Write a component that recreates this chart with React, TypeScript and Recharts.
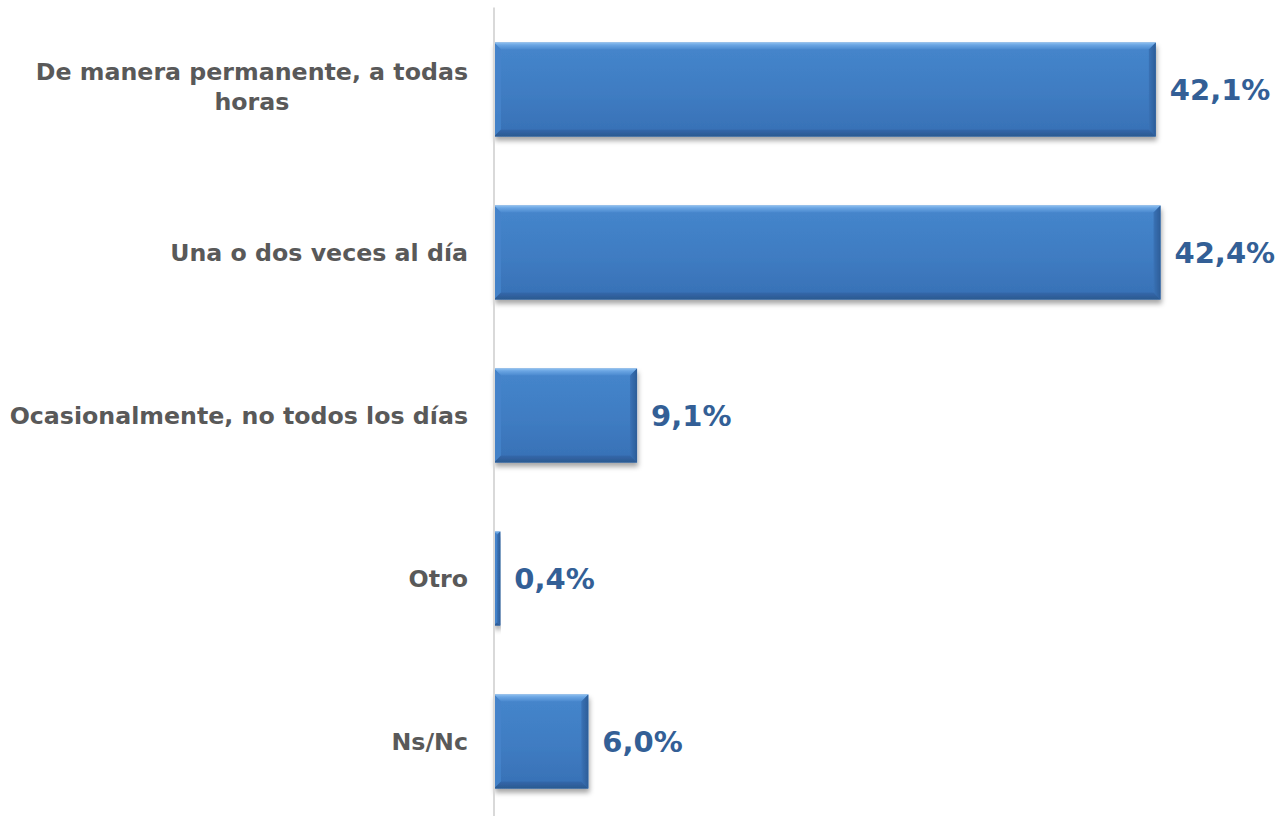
import React from "react";
import { BarChart, Bar, XAxis, YAxis, LabelList } from "recharts";

const categories = [
  "De manera permanente, a todas horas",
  "Una o dos veces al día",
  "Ocasionalmente, no todos los días",
  "Otro",
  "Ns/Nc",
];
const categoryLabelLines = [
  ["De manera permanente, a todas", "horas"],
  ["Una o dos veces al día"],
  ["Ocasionalmente, no todos los días"],
  ["Otro"],
  ["Ns/Nc"],
];
const values = [42.1, 42.4, 9.1, 0.4, 6.0];
const valueLabels = ["42,1%", "42,4%", "9,1%", "0,4%", "6,0%"];

const data = categories.map((c, i) => ({
  name: c,
  value: values[i],
  label: valueLabels[i],
  lines: categoryLabelLines[i],
}));

const FONT = "'DejaVu Sans', Verdana, sans-serif";
const TICK_FS = 23.7;
const VAL_FS = 29;

let measureCtx: CanvasRenderingContext2D | null = null;
function measure(text: string, fs: number) {
  if (!measureCtx) {
    const c = document.createElement("canvas");
    measureCtx = c.getContext("2d");
  }
  if (!measureCtx) return text.length * fs * 0.6;
  measureCtx.font = `bold ${fs}px 'DejaVu Sans'`;
  return measureCtx.measureText(text).width;
}

const CategoryTick = (props: any) => {
  const { x, y, payload } = props;
  const idx = categories.indexOf(payload.value);
  const lines = idx >= 0 ? categoryLabelLines[idx] : [String(payload.value)];
  const lh = 30;
  const capOff = TICK_FS * 0.36;
  if (lines.length === 1) {
    return (
      <text
        x={x}
        y={y + capOff}
        textAnchor="end"
        fill="#595959"
        fontSize={TICK_FS}
        fontWeight="bold"
        fontFamily={FONT}
      >
        {lines[0]}
      </text>
    );
  }
  const maxW = Math.max(...lines.map((l) => measure(l, TICK_FS)));
  const cx = x - maxW / 2;
  return (
    <g>
      {lines.map((l, i) => (
        <text
          key={i}
          x={cx}
          y={y + (i - (lines.length - 1) / 2) * lh - 3 + capOff}
          textAnchor="middle"
          fill="#595959"
          fontSize={TICK_FS}
          fontWeight="bold"
          fontFamily={FONT}
        >
          {l}
        </text>
      ))}
    </g>
  );
};

const BevelBar = (props: any) => {
  const { x, y, width, height } = props;
  if (width <= 0 || height <= 0) return null;
  const b = Math.min(7, width / 2, height / 2);
  return (
    <g filter="url(#barShadow)">
      <rect x={x} y={y} width={width} height={height} fill="url(#barMain)" />
      <polygon
        points={`${x},${y} ${x + width},${y} ${x + width - b},${y + b} ${x + b},${y + b}`}
        fill="url(#bevelTop)"
      />
      <polygon
        points={`${x},${y} ${x + b},${y + b} ${x + b},${y + height - b} ${x},${y + height}`}
        fill="#4583ca"
        opacity={0.9}
      />
      <polygon
        points={`${x + width},${y} ${x + width},${y + height} ${x + width - b},${y + height - b} ${x + width - b},${y + b}`}
        fill="url(#bevelRight)"
      />
      <polygon
        points={`${x},${y + height} ${x + width},${y + height} ${x + width - b},${y + height - b} ${x + b},${y + height - b}`}
        fill="url(#bevelBottom)"
      />
    </g>
  );
};

const ValueLabel = (props: any) => {
  const { x, y, width, height, value } = props;
  return (
    <text
      x={x + width + 14}
      y={y + height / 2 + VAL_FS * 0.36}
      textAnchor="start"
      fill="#335f96"
      fontSize={VAL_FS}
      fontWeight="bold"
      fontFamily={FONT}
    >
      {value}
    </text>
  );
};

export default function App() {
  return (
    <div
      style={{
        position: "absolute",
        left: 0,
        top: 0,
        width: 1282,
        height: 816,
        overflow: "hidden",
        background: "#ffffff",
      }}
    >
      <BarChart
        width={1282}
        height={824}
        data={data}
        layout="vertical"
        margin={{ top: 7.5, right: 2, bottom: 1.5, left: 0 }}
      >
        <defs>
          <linearGradient id="barMain" x1="0" y1="0" x2="0" y2="1">
            <stop offset="0%" stopColor="#4586cc" />
            <stop offset="55%" stopColor="#3f7cc2" />
            <stop offset="100%" stopColor="#3770b5" />
          </linearGradient>
          <linearGradient id="bevelTop" x1="0" y1="0" x2="0" y2="1">
            <stop offset="0%" stopColor="#8ec0f0" />
            <stop offset="35%" stopColor="#6aa5e3" />
            <stop offset="100%" stopColor="#4a89cf" />
          </linearGradient>
          <linearGradient id="bevelBottom" x1="0" y1="0" x2="0" y2="1">
            <stop offset="0%" stopColor="#3468ab" />
            <stop offset="100%" stopColor="#2b5990" />
          </linearGradient>
          <linearGradient id="bevelRight" x1="0" y1="0" x2="1" y2="0">
            <stop offset="0%" stopColor="#3a72b6" />
            <stop offset="100%" stopColor="#2c5d98" />
          </linearGradient>
          <filter id="barShadow" x="-5%" y="-10%" width="115%" height="130%">
            <feDropShadow dx="1" dy="4" stdDeviation="2.5" floodColor="#000000" floodOpacity="0.35" />
          </filter>
        </defs>
        <XAxis type="number" domain={[0, 50]} hide />
        <YAxis
          type="category"
          dataKey="name"
          width={494}
          axisLine={{ stroke: "#d9d9d9", strokeWidth: 2 }}
          tickLine={false}
          tickSize={0}
          tickMargin={26}
          tick={<CategoryTick />}
          interval={0}
        />
        <Bar
          dataKey="value"
          barSize={94}
          shape={<BevelBar />}
          isAnimationActive={false}
        >
          <LabelList dataKey="label" content={<ValueLabel />} />
        </Bar>
      </BarChart>
    </div>
  );
}
